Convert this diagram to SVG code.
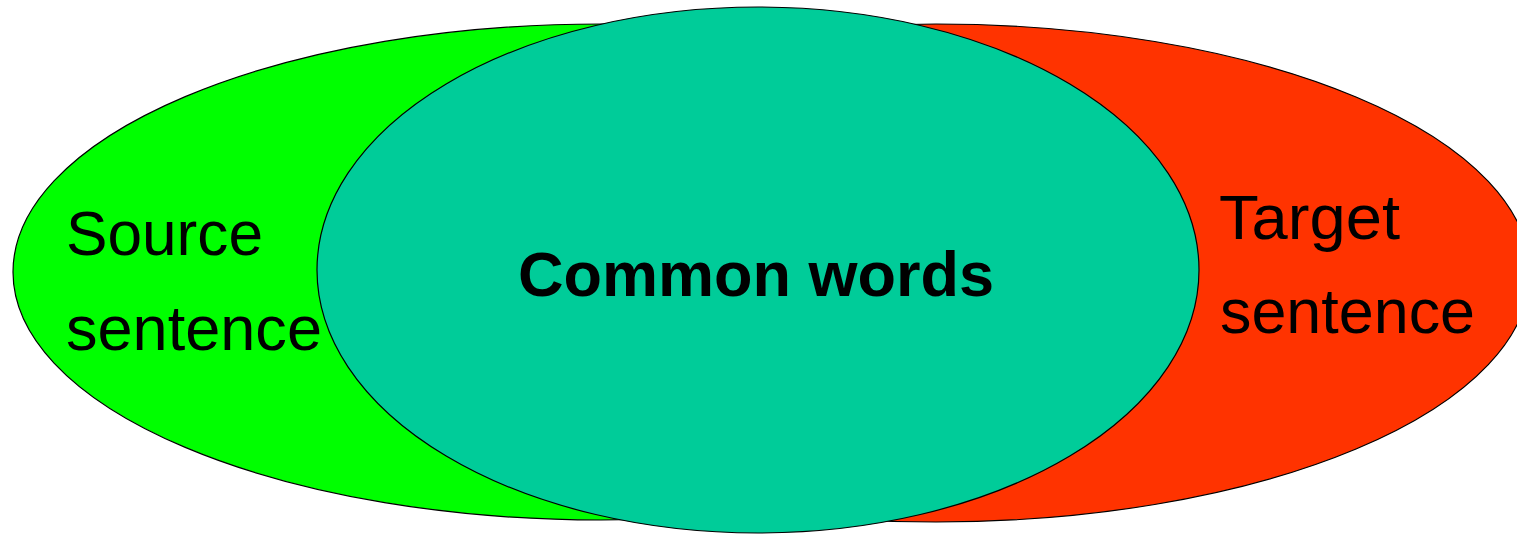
<svg xmlns="http://www.w3.org/2000/svg" width="1517" height="536" viewBox="0 0 1517 536">
  <style>
    .set { stroke: #000000; stroke-width: 1.2; }
    .label { font-family: "Liberation Sans", Arial, sans-serif; font-size: 63px; fill: #000000; }
    .bold { font-weight: bold; }
  </style>
  <rect x="0" y="0" width="1517" height="536" fill="#ffffff"/>
  <g id="source">
    <ellipse class="set" cx="601" cy="272" rx="588" ry="248" fill="#00FF00"/>
    <text class="label" x="66" y="255" textLength="197" lengthAdjust="spacingAndGlyphs">Source</text>
    <text class="label" x="66" y="350" textLength="256" lengthAdjust="spacingAndGlyphs">sentence</text>
  </g>
  <g id="target">
    <ellipse class="set" cx="936" cy="273" rx="594" ry="249" fill="#FF3300"/>
    <text class="label" x="1219" y="239" textLength="181" lengthAdjust="spacingAndGlyphs">Target</text>
    <text class="label" x="1220" y="333" textLength="255" lengthAdjust="spacingAndGlyphs">sentence</text>
  </g>
  <g id="common">
    <ellipse class="set" cx="758" cy="270" rx="441" ry="263" fill="#00CC99"/>
    <text class="label bold" x="518" y="296" textLength="476" lengthAdjust="spacingAndGlyphs">Common words</text>
  </g>
  <g id="connectors"></g>
</svg>
